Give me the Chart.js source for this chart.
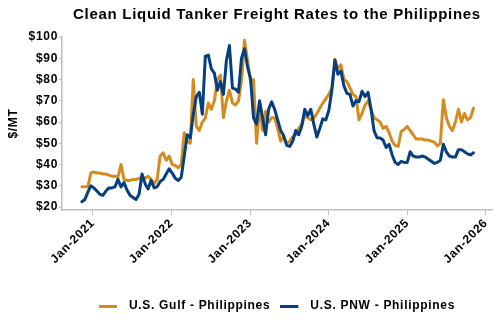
<!DOCTYPE html>
<html>
<head>
<meta charset="utf-8">
<script src="https://cdn.jsdelivr.net/npm/chart.js@4.4.1/dist/chart.umd.min.js"></script>
<style>
  html, body { margin: 0; padding: 0; background: #fff; }
  #wrap { width: 500px; height: 330px; }
</style>
</head>
<body>
<div id="wrap"><canvas id="freightChart"></canvas></div>
<script>
// biweekly observations, starting 10 Nov 2020
const startDate = Date.UTC(2020, 10, 10);
const stepDays = 14;

const gulfRates = [
  29.5, 29.5, 29.5, 36, 36.5, 36, 36, 35.5, 35.5, 35,
  34.5, 34.5, 34, 40, 33, 32.5, 32.5, 33, 33, 33.5,
  34, 33.5, 34.5, 33, 31, 33, 44, 45.5, 42, 44,
  40, 39.5, 38.5, 40, 55, 51, 50, 80, 58, 56,
  60, 62, 69, 66, 70, 80, 82, 62, 70, 75,
  69, 68, 70, 79, 98.5, 89, 79, 80, 50, 68,
  56, 65, 60, 62, 62, 57, 51, 53, 50, 51,
  53, 54, 57, 59, 63, 62, 61, 62, 64, 66.5,
  69, 71, 73, 76, 89.5, 85, 87, 80, 79, 76,
  73, 72, 61, 64, 68, 70, 66, 62, 61, 60,
  57, 58, 55, 51, 49, 48.5, 55.5, 56.5, 58, 56,
  54, 52, 52, 52, 51.5, 51.5, 51, 50.5, 48.8, 50,
  70.5, 62, 58, 56, 60, 66, 60, 64, 61, 62,
  66.5
];

const pnwRates = [
  22.5, 23.5, 27, 30, 29, 27.5, 26, 25.5, 27.5, 29,
  29, 29.5, 33, 29.5, 31.5, 28, 25.5, 24.5, 23.5, 26,
  35.5, 31, 28.5, 32.5, 29, 29.5, 32, 33, 35.5, 38,
  36, 33.5, 32.5, 34, 44, 54, 52.5, 63.7, 72, 74,
  63.7, 91, 91.5, 85, 83, 75, 79, 73, 89, 96,
  76, 75.5, 74, 90, 94.5, 86, 80.5, 62, 59, 70,
  62, 54, 66, 69.5, 66, 61, 56, 53.5, 49, 48.5,
  51, 56, 54, 58, 66, 63, 66, 59, 53, 57,
  61.5, 61, 65.5, 75, 89, 82.5, 84, 77, 73.5, 73,
  67.5, 70, 69.5, 74.5, 72, 74, 66, 55.8, 52.6, 52.5,
  51.5, 48, 49.5, 44.5, 41, 40, 41.5, 41, 41, 46,
  44, 43.5, 43.5, 44, 43.5, 42.5, 41.5, 40.5, 41, 42,
  49.5, 46, 44, 43.5, 43.5, 47, 47, 46, 45, 44.5,
  45.5
];

const tickYears = [2021, 2022, 2023, 2024, 2025, 2026];
const yTicks = [20, 30, 40, 50, 60, 70, 80, 90, 100];

const gulfColor = "#D68B1F";
const pnwColor = "#063F7F";

const dates = gulfRates.map((_, i) => startDate + i * stepDays * 86400000);
const toPoints = (vals) => vals.map((v, i) => ({ x: dates[i], y: v }));

// legend swatch: 18px line with some empty room after it
function swatch(color) {
  const c = document.createElement("canvas");
  c.width = 24;
  c.height = 3;
  const g = c.getContext("2d");
  g.fillStyle = color;
  g.fillRect(0, 0, 18, 3);
  return c;
}

const spacing = {
  id: "spacing",
  beforeUpdate(c) { c.ctx.letterSpacing = "0.7px"; },
  beforeDraw(c) { c.ctx.letterSpacing = "0.7px"; }
};

Chart.defaults.font.family = "'Liberation Sans', Arial, sans-serif";
Chart.defaults.font.weight = "bold";
Chart.defaults.font.size = 12;
Chart.defaults.color = "#000";

new Chart(document.getElementById("freightChart"), {
  type: "line",
  data: {
    datasets: [{
      label: "U.S. Gulf - Philippines",
      data: toPoints(gulfRates),
      borderColor: gulfColor,
      backgroundColor: gulfColor,
      borderWidth: 3,
      pointRadius: 0,
      pointStyle: swatch(gulfColor),
      order: 1,
    }, {
      label: "U.S. PNW - Philippines",
      data: toPoints(pnwRates),
      borderColor: pnwColor,
      backgroundColor: pnwColor,
      borderWidth: 3,
      pointRadius: 0,
      pointStyle: swatch(pnwColor),
      order: 0,
    }]
  },
  options: {
    responsive: true,
    maintainAspectRatio: false,
    animation: false,
    layout: { padding: { left: 0, right: 8, top: 0, bottom: 8 } },
    elements: { line: { borderJoinStyle: "round", borderCapStyle: "round", tension: 0 } },
    plugins: {
      title: {
        display: true,
        text: "Clean Liquid Tanker Freight Rates to the Philippines",
        fullSize: false,
        font: { size: 15, weight: "bold" },
        color: "#000",
        padding: { top: 6, bottom: 13 },
      },
      legend: {
        position: "bottom",
        fullSize: false,
        labels: {
          usePointStyle: true,
          pointStyleWidth: 24,
          boxHeight: 3,
          padding: 10,
          sort: (a, b) => a.datasetIndex - b.datasetIndex,
        },
      },
      tooltip: { enabled: false },
    },
    scales: {
      x: {
        type: "linear",
        min: Date.UTC(2020, 7, 10),
        max: Date.UTC(2026, 0, 29),
        afterBuildTicks: (s) => { s.ticks = tickYears.map(y => ({ value: Date.UTC(y, 0, 1) })); },
        afterFit: (s) => { s.height = 80; },
        ticks: {
          minRotation: 45,
          maxRotation: 45,
          autoSkip: false,
          padding: 1,
          callback: (v) => "Jan-" + new Date(v).getUTCFullYear(),
        },
        grid: { drawOnChartArea: false, tickLength: 5, color: "#bfbfbf" },
        border: { color: "#bfbfbf", width: 1.5 },
      },
      y: {
        min: 18.6,
        max: 100,
        afterBuildTicks: (s) => { s.ticks = yTicks.map(v => ({ value: v })); },
        afterFit: (s) => { s.width = 62; },
        ticks: {
          padding: 1,
          callback: (v) => "$" + v,
        },
        title: { display: true, text: "$/MT", font: { size: 12, weight: "bold" }, padding: { top: 6, bottom: 0 } },
        grid: { drawOnChartArea: false, tickLength: 3, color: "#bfbfbf" },
        border: { color: "#bfbfbf", width: 1.5 },
      },
    },
  },
  plugins: [spacing],
});
</script>
</body>
</html>
